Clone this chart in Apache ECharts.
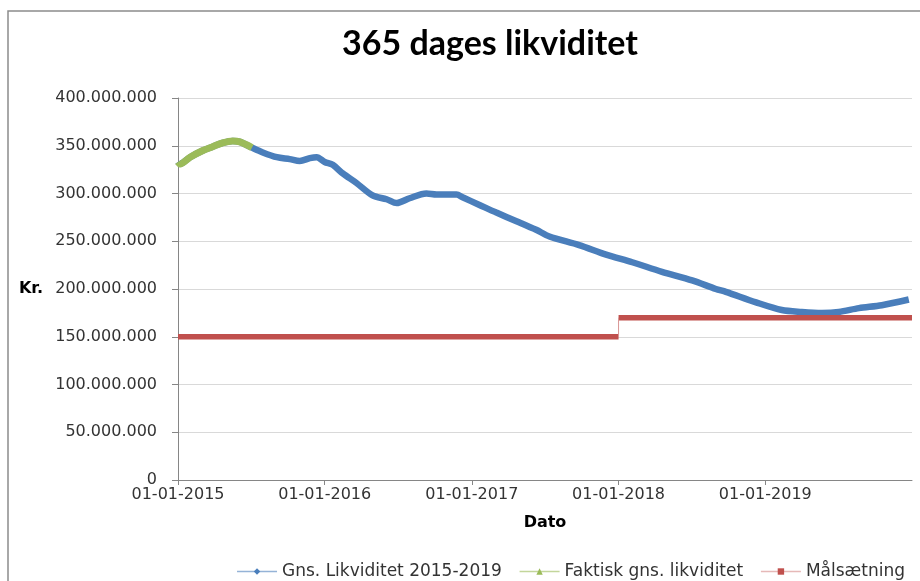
<!DOCTYPE html>
<html>
<head>
<meta charset="utf-8">
<script src="https://cdn.jsdelivr.net/npm/echarts@6/dist/echarts.min.js"></script>
<style>
  html, body { margin: 0; padding: 0; background: #ffffff; }
  #chart { width: 920px; height: 581px; }
</style>
</head>
<body>
<div id="chart"></div>
<script>
// Gns. Likviditet 2015-2019
const avgDates = [
  '2015-01-01', '2015-01-06', '2015-01-31', '2015-03-04', '2015-03-28', '2015-04-22',
  '2015-05-17', '2015-06-04', '2015-07-04', '2015-07-31', '2015-09-04', '2015-10-06',
  '2015-10-31', '2015-11-25', '2015-12-12', '2016-01-01', '2016-01-21', '2016-02-15',
  '2016-03-20', '2016-04-29', '2016-06-03', '2016-06-28', '2016-07-30', '2016-09-10',
  '2016-10-05', '2016-11-24', '2016-12-09', '2017-01-20', '2017-03-03', '2017-04-22',
  '2017-06-10', '2017-07-13', '2017-09-25', '2017-12-01', '2018-02-04', '2018-04-19',
  '2018-07-03', '2018-08-31', '2018-09-25', '2018-12-09', '2019-02-11', '2019-04-02',
  '2019-05-22', '2019-07-03', '2019-08-22', '2019-10-18', '2019-12-24'
]
const avgValues = [
  333e6, 331e6, 338e6, 345e6, 349e6, 353e6,
  355e6, 354e6, 348e6, 343e6, 338e6, 336e6,
  334e6, 337e6, 338e6, 333e6, 330e6, 321e6,
  311e6, 298e6, 294e6, 290e6, 295e6, 300e6,
  299e6, 299e6, 296e6, 288e6, 280e6, 271e6,
  262e6, 255e6, 246e6, 236e6, 228e6, 218e6,
  209e6, 200e6, 197e6, 186e6, 178e6, 176e6,
  175e6, 176e6, 180e6, 183e6, 189e6
]

// Faktisk gns. likviditet
const actualDates = [
  '2015-01-01', '2015-01-06', '2015-01-31', '2015-03-04', '2015-03-28',
  '2015-04-22', '2015-05-17', '2015-06-04', '2015-07-04'
]
const actualValues = [333e6, 331e6, 338e6, 345e6, 349e6, 353e6, 355e6, 354e6, 348e6]

// Målsætning (step at 01-01-2018)
const targetDates = ['2015-01-01', '2018-01-01', '2018-01-01', '2020-01-01']
const targetValues = [150e6, 150e6, 170e6, 170e6]

const xMin = '2015-01-01'
const xMax = '2020-01-01'

const BLUE = '#4a7ebb'
const GREEN = '#9bbb59'
const RED = '#c0504d'
const TXT = '#333333'
const FONT = 'DejaVu Sans'

function fmtKr(v) {
  return String(v).replace(/\B(?=(\d{3})+(?!\d))/g, '.')
}

const avgData = avgDates.map((d, i) => [d, avgValues[i]])
const actualData = actualDates.map((d, i) => [d, actualValues[i]])
// thick segments with a gap at the step, plus a thin connector
const targetSteps = [
  [targetDates[0], targetValues[0]],
  [targetDates[1], targetValues[1]],
  [targetDates[1], '-'],
  [targetDates[2], targetValues[2]],
  [targetDates[3], targetValues[3]],
]
const targetJoin = [
  [targetDates[1], targetValues[1]],
  [targetDates[2], targetValues[2]],
]

const chart = echarts.init(document.getElementById('chart'), null, { renderer: 'canvas' })

chart.setOption({
  backgroundColor: '#ffffff',
  animation: false,
  textStyle: { fontFamily: FONT },
  title: {
    text: '365 dages likviditet',
    left: 485,
    top: 22,
    textAlign: 'center',
    textStyle: { fontFamily: 'Lato', fontWeight: 'bold', fontSize: 34, color: '#000000' },
  },
  graphic: [
    {
      type: 'rect',
      shape: { x: 8, y: 11, width: 940, height: 620 },
      style: { fill: 'none', stroke: '#8c8c8c', lineWidth: 1.5 },
      silent: true,
      z: -1,
    },
  ],
  grid: { left: 178, right: 8, top: 98, bottom: 101, containLabel: false },
  legend: {
    right: 10,
    top: 558,
    itemWidth: 40,
    itemHeight: 8,
    itemGap: 17,
    textStyle: { fontFamily: FONT, fontSize: 17, color: TXT },
    data: [
      { name: 'Gns. Likviditet 2015-2019', lineStyle: { color: '#95b3d7', width: 1.5 }, itemStyle: { color: BLUE } },
      { name: 'Faktisk gns. likviditet', lineStyle: { color: '#c3d69b', width: 1.5 }, itemStyle: { color: GREEN } },
      { name: 'Målsætning', lineStyle: { color: '#e6b9b8', width: 1.5 }, itemStyle: { color: RED } },
    ],
  },
  xAxis: {
    type: 'time',
    min: xMin,
    max: xMax,
    splitNumber: 5,
    name: 'Dato',
    nameLocation: 'middle',
    nameGap: 35,
    nameTextStyle: { fontFamily: FONT, fontWeight: 'bold', fontSize: 16, color: '#000000' },
    axisLine: { lineStyle: { color: '#868686', width: 1 } },
    axisTick: { show: true, length: 5, lineStyle: { color: '#868686' } },
    minorTick: { show: false },
    splitLine: { show: false },
    axisLabel: {
      fontFamily: FONT,
      fontSize: 16,
      color: TXT,
      margin: 7,
      showMinLabel: true,
      formatter: (v) => (new Date(v).getFullYear() >= 2020 ? '' : echarts.time.format(v, '{dd}-{MM}-{yyyy}', false)),
    },
  },
  yAxis: {
    type: 'value',
    min: 0,
    max: 400000000,
    interval: 50000000,
    name: 'Kr.',
    nameLocation: 'middle',
    nameRotate: 0,
    nameGap: 135,
    nameTextStyle: { fontFamily: FONT, fontWeight: 'bold', fontSize: 16, color: '#000000' },
    axisLine: { show: true, lineStyle: { color: '#868686', width: 1 } },
    axisTick: { show: true, length: 6, lineStyle: { color: '#868686' } },
    splitLine: { lineStyle: { color: '#d9d9d9', width: 1 } },
    axisLabel: { fontFamily: FONT, fontSize: 16, color: TXT, margin: 21, formatter: fmtKr },
  },
  series: [
    {
      name: 'Gns. Likviditet 2015-2019',
      type: 'line',
      data: avgData,
      symbol: 'diamond',
      showSymbol: false,
      smooth: 0.3,
      lineStyle: { color: BLUE, width: 6.5 },
      itemStyle: { color: BLUE },
      z: 2,
    },
    {
      name: 'Faktisk gns. likviditet',
      type: 'line',
      data: actualData,
      symbol: 'triangle',
      showSymbol: false,
      smooth: 0.3,
      lineStyle: { color: GREEN, width: 7 },
      itemStyle: { color: GREEN },
      z: 3,
    },
    {
      name: 'Målsætning',
      type: 'line',
      data: targetSteps,
      symbol: 'rect',
      showSymbol: false,
      connectNulls: false,
      lineStyle: { color: RED, width: 5.5 },
      itemStyle: { color: RED },
      z: 4,
    },
    {
      name: 'Målsætning',
      type: 'line',
      data: targetJoin,
      symbol: 'rect',
      showSymbol: false,
      lineStyle: { color: '#d99694', width: 1 },
      itemStyle: { color: RED },
      z: 4,
    },
  ],
})
</script>
</body>
</html>
